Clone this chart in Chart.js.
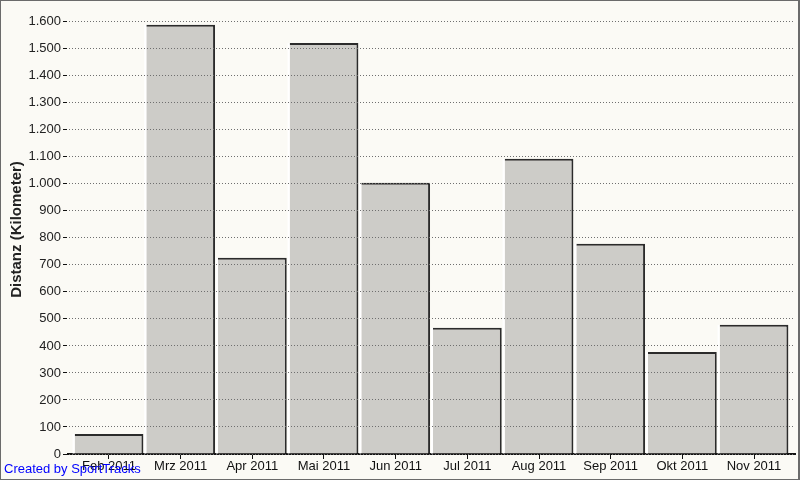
<!DOCTYPE html>
<html>
<head>
<meta charset="utf-8">
<script src="https://cdn.jsdelivr.net/npm/chart.js@4/dist/chart.umd.min.js"></script>
<style>
  html, body { margin: 0; padding: 0; background: #fbfaf5; }
  #wrap { position: relative; width: 800px; height: 480px; }
  #rahmen { position: absolute; left: 0; top: 0; width: 800px; height: 480px; box-sizing: border-box; border: 1px solid #6b6b6b; border-right-width: 2px; pointer-events: none; }
  #credit { position: absolute; left: 4px; top: 461px; font: 13px "Liberation Sans", Arial, sans-serif; color: #0000ff; }
</style>
</head>
<body>
<div id="wrap">
  <canvas id="distanzChart" width="800" height="480"></canvas>
  <div id="credit">Created by SportTracks</div>
  <div id="rahmen"></div>
</div>
<script>
const monate = ['Feb 2011', 'Mrz 2011', 'Apr 2011', 'Mai 2011', 'Jun 2011', 'Jul 2011', 'Aug 2011', 'Sep 2011', 'Okt 2011', 'Nov 2011'];
const distanz = [74, 1589, 726, 1521, 1004, 467, 1093, 778, 378, 478];
const yTicks = [0, 100, 200, 300, 400, 500, 600, 700, 800, 900, 1000, 1100, 1200, 1300, 1400, 1500, 1600];

function formatDe(wert) {
    return String(wert).replace(/\B(?=(\d{3})+(?!\d))/g, '.');
}

// weisse Kante links an jedem Balken
const weisseKante = {
    id: 'weisseKante',
    afterDatasetsDraw(chart) {
        const ctx = chart.ctx;
        const meta = chart.getDatasetMeta(0);
        ctx.save();
        ctx.fillStyle = '#ffffff';
        meta.data.forEach(bar => {
            const links = bar.x - bar.width / 2;
            ctx.fillRect(links - 2, bar.y, 2, bar.base - bar.y);
        });
        ctx.restore();
    }
};

const schrift = { family: '"Liberation Sans", Arial, sans-serif', size: 13 };

new Chart(document.getElementById('distanzChart'), {
    type: 'bar',
    data: {
        datasets: [{
            data: distanz.map((v, i) => ({ x: i, y: v })),
            backgroundColor: '#cdccc8',
            borderColor: '#2b2b2b',
            borderWidth: { top: 2, right: 2, left: 0, bottom: 0 },
            borderSkipped: false,
            barPercentage: 0.96,
            categoryPercentage: 1
        }]
    },
    plugins: [weisseKante],
    options: {
        responsive: false,
        animation: false,
        layout: { padding: { top: 5, right: 5, left: 0, bottom: 0 } },
        plugins: {
            legend: { display: false },
            tooltip: { enabled: false }
        },
        scales: {
            x: {
                type: 'linear',
                offset: false,
                min: -0.572,
                max: 9.572,
                afterBuildTicks: scale => {
                    scale.ticks = monate.map((_, i) => ({ value: i }));
                },
                afterFit: scale => {
                    scale.height = 26;
                    scale.paddingLeft = 0;
                    scale.paddingRight = 0;
                },
                ticks: {
                    callback: v => monate[v],
                    color: '#111',
                    font: schrift,
                    padding: 0,
                    maxRotation: 0,
                    autoSkip: false
                },
                grid: {
                    drawOnChartArea: false,
                    offset: false,
                    tickLength: 5,
                    tickColor: '#111',
                    tickWidth: 1
                },
                border: { color: '#111', width: 2 }
            },
            y: {
                min: 0,
                max: 1662,
                afterBuildTicks: scale => {
                    scale.ticks = yTicks.map(v => ({ value: v }));
                },
                afterFit: scale => {
                    scale.width = 68;
                    scale.paddingTop = 0;
                    scale.paddingBottom = 0;
                },
                ticks: {
                    callback: v => formatDe(v),
                    color: '#222',
                    font: schrift,
                    padding: 2
                },
                title: {
                    display: true,
                    text: 'Distanz (Kilometer)',
                    color: '#222',
                    font: { family: '"Liberation Sans", Arial, sans-serif', size: 15, weight: 'bold' },
                    padding: { top: 8, bottom: 0 }
                },
                grid: {
                    z: 1,
                    color: '#6f6f6f',
                    lineWidth: 1,
                    tickLength: 5,
                    tickColor: '#111',
                    tickBorderDash: [],
                    tickWidth: 1
                },
                border: { color: '#111', width: 2, dash: [1, 2] }
            }
        }
    }
});
</script>
</body>
</html>
